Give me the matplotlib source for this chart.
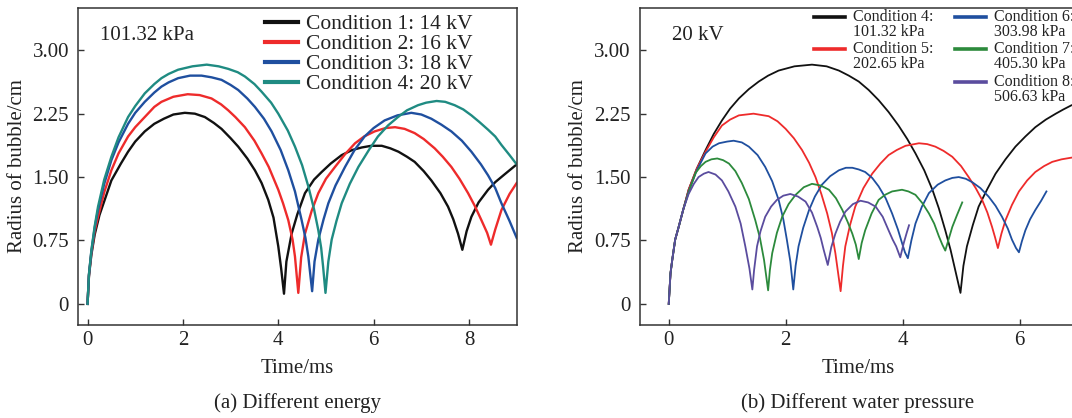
import matplotlib
matplotlib.use("Agg")
import matplotlib.pyplot as plt

plt.rcParams['font.family'] = ['Liberation Serif', 'DejaVu Serif']

# ---------------- data: panel (a) different energy ----------------
c1_t = [0, 0.03, 0.08, 0.15, 0.25, 0.5, 0.7, 0.85, 1.0, 1.2, 1.4, 1.6, 1.8, 2.04, 2.25, 2.46, 2.65, 2.81,
        3.0, 3.16, 3.35, 3.51, 3.65, 3.79, 3.9, 4.0, 4.06, 4.12,
        4.17, 4.28, 4.4, 4.56, 4.75, 4.91, 5.1, 5.33, 5.55, 5.75, 5.95, 6.17, 6.35, 6.52, 6.7, 6.86, 7.05,
        7.21, 7.4, 7.56, 7.67, 7.77, 7.86, 7.95, 8.05, 8.2, 8.40, 8.55, 8.72, 9.0]
c1_r = [0, 0.33, 0.58, 0.82, 1.05, 1.46, 1.66, 1.80, 1.92, 2.04, 2.13, 2.19, 2.24, 2.26, 2.25, 2.21, 2.14, 2.07,
        1.96, 1.86, 1.72, 1.58, 1.43, 1.23, 1.02, 0.68, 0.42, 0.12,
        0.50, 0.83, 1.06, 1.31, 1.47, 1.56, 1.66, 1.76, 1.82, 1.85, 1.87, 1.87, 1.84, 1.80, 1.74, 1.68, 1.57,
        1.46, 1.31, 1.15, 1.00, 0.83, 0.64, 0.86, 1.03, 1.20, 1.35, 1.44, 1.52, 1.65]

c2_t = [0, 0.03, 0.08, 0.15, 0.22, 0.35, 0.5, 0.65, 0.85, 1.0, 1.2, 1.4, 1.55, 1.8, 2.1, 2.35, 2.6, 2.8, 2.95,
        3.1, 3.3, 3.5, 3.65, 3.8, 4.0, 4.1, 4.21, 4.3, 4.35, 4.42,
        4.48, 4.56, 4.7, 4.84, 5.0, 5.19, 5.4, 5.61, 5.8, 6.02, 6.25, 6.45, 6.65, 6.86, 7.05, 7.28, 7.45, 7.63,
        7.8, 7.98, 8.12, 8.26, 8.38, 8.46, 8.55, 8.68, 8.85, 9.0]
c2_r = [0, 0.34, 0.60, 0.86, 1.03, 1.32, 1.58, 1.78, 1.98, 2.09, 2.21, 2.33, 2.39, 2.45, 2.48, 2.47, 2.43, 2.36,
        2.29, 2.21, 2.09, 1.93, 1.78, 1.62, 1.35, 1.19, 0.99, 0.76, 0.56, 0.13,
        0.55, 0.83, 1.10, 1.31, 1.48, 1.62, 1.77, 1.90, 1.98, 2.04, 2.08, 2.09, 2.07, 2.02, 1.95, 1.84, 1.74,
        1.62, 1.48, 1.31, 1.16, 0.99, 0.84, 0.70, 0.88, 1.11, 1.30, 1.43]

c3_t = [0, 0.03, 0.08, 0.15, 0.22, 0.35, 0.5, 0.65, 0.85, 1.0, 1.2, 1.4, 1.55, 1.7, 1.9, 2.15, 2.39, 2.6, 2.81,
        3.0, 3.16, 3.35, 3.51, 3.7, 3.86, 4.05, 4.21, 4.35, 4.49, 4.57, 4.63, 4.71,
        4.76, 4.84, 4.95, 5.05, 5.2, 5.4, 5.6, 5.81, 6.0, 6.23, 6.5, 6.79, 7.0, 7.21, 7.42, 7.63, 7.85, 8.05,
        8.25, 8.40, 8.55, 8.68, 8.85, 9.0]
c3_r = [0, 0.35, 0.62, 0.90, 1.11, 1.42, 1.70, 1.91, 2.13, 2.26, 2.39, 2.50, 2.57, 2.62, 2.67, 2.70, 2.70, 2.68,
        2.65, 2.59, 2.53, 2.43, 2.33, 2.19, 2.04, 1.82, 1.58, 1.33, 0.99, 0.78, 0.56, 0.15,
        0.50, 0.76, 1.00, 1.19, 1.40, 1.62, 1.82, 1.98, 2.08, 2.17, 2.23, 2.26, 2.24, 2.19, 2.12, 2.04, 1.93,
        1.80, 1.65, 1.52, 1.37, 1.19, 0.98, 0.78]

c4a_t = [0, 0.03, 0.08, 0.15, 0.22, 0.35, 0.5, 0.65, 0.85, 1.0, 1.2, 1.4, 1.55, 1.7, 1.9, 2.2, 2.5, 2.75, 2.95,
         3.15, 3.3, 3.5, 3.65, 3.85, 4.0, 4.2, 4.35, 4.5, 4.63, 4.75, 4.84, 4.9, 4.94, 4.99,
         5.05, 5.12, 5.22, 5.33, 5.5, 5.68, 5.9, 6.09, 6.3, 6.51, 6.7, 6.93, 7.1, 7.32, 7.5, 7.70, 7.88, 8.05,
         8.22, 8.40, 8.55, 8.68, 8.85, 9.0]
c4a_r = [0, 0.35, 0.63, 0.92, 1.15, 1.47, 1.74, 1.97, 2.21, 2.34, 2.49, 2.60, 2.67, 2.72, 2.77, 2.81, 2.83, 2.81,
         2.78, 2.74, 2.69, 2.60, 2.51, 2.38, 2.25, 2.05, 1.86, 1.64, 1.39, 1.12, 0.87, 0.66, 0.44, 0.13,
         0.50, 0.76, 0.98, 1.19, 1.42, 1.62, 1.82, 1.98, 2.11, 2.21, 2.29, 2.35, 2.38, 2.40, 2.39, 2.35, 2.30,
         2.23, 2.15, 2.06, 1.98, 1.88, 1.76, 1.65]

labels_a = ["Condition 1: 14 kV", "Condition 2: 16 kV", "Condition 3: 18 kV", "Condition 4: 20 kV"]

# ---------------- data: panel (b) different water pressure ----------------
c4b_t = [0, 0.03, 0.06, 0.11, 0.17, 0.25, 0.34, 0.48, 0.63, 0.77, 0.91, 1.05, 1.2, 1.37, 1.54, 1.7, 1.88,
         2.15, 2.45, 2.7, 2.91, 3.08, 3.25, 3.42, 3.59, 3.76, 3.93, 4.08, 4.22, 4.37, 4.51, 4.62, 4.73, 4.82,
         4.90, 4.99, 5.04, 5.10, 5.20, 5.30, 5.45, 5.59, 5.76, 5.93, 6.1, 6.27, 6.45, 6.62, 6.75, 6.89, 7.1,
         7.32]
c4b_r = [0, 0.36, 0.52, 0.76, 0.91, 1.12, 1.35, 1.60, 1.82, 2.01, 2.17, 2.31, 2.43, 2.54, 2.63, 2.70, 2.76,
         2.81, 2.83, 2.81, 2.76, 2.70, 2.63, 2.53, 2.41, 2.27, 2.11, 1.95, 1.78, 1.58, 1.35, 1.13, 0.87, 0.64,
         0.40, 0.13, 0.45, 0.68, 0.93, 1.15, 1.36, 1.54, 1.71, 1.86, 1.98, 2.09, 2.18, 2.25, 2.30, 2.35, 2.38,
         2.40]

c5_t = [0, 0.03, 0.06, 0.11, 0.17, 0.25, 0.34, 0.48, 0.63, 0.77, 0.91, 1.05, 1.2, 1.45, 1.71, 1.86, 2.0, 2.14,
        2.28, 2.40, 2.51, 2.61, 2.71, 2.79, 2.85, 2.94, 2.98, 3.02, 3.1, 3.19, 3.33, 3.48, 3.62, 3.76, 3.9,
        4.05, 4.28, 4.42, 4.56, 4.7, 4.85, 5.0, 5.13, 5.25, 5.36, 5.45, 5.53, 5.58, 5.63, 5.69, 5.76, 5.87,
        5.99, 6.13, 6.27, 6.42, 6.56, 6.72, 6.89, 7.2]
c5_r = [0, 0.36, 0.52, 0.76, 0.91, 1.12, 1.35, 1.60, 1.80, 1.97, 2.11, 2.18, 2.23, 2.25, 2.22, 2.16, 2.07, 1.96,
        1.82, 1.67, 1.50, 1.30, 1.07, 0.84, 0.60, 0.15, 0.45, 0.68, 0.93, 1.15, 1.37, 1.54, 1.66, 1.76, 1.82,
        1.87, 1.90, 1.89, 1.86, 1.81, 1.74, 1.63, 1.50, 1.37, 1.23, 1.08, 0.91, 0.79, 0.66, 0.83, 0.99, 1.17,
        1.33, 1.46, 1.56, 1.63, 1.68, 1.71, 1.73, 1.74]

c6_t = [0, 0.03, 0.06, 0.11, 0.17, 0.25, 0.34, 0.48, 0.63, 0.75, 0.86, 1.0, 1.11, 1.25, 1.37, 1.52, 1.65, 1.77,
        1.88, 1.96, 2.02, 2.08, 2.13, 2.17, 2.22, 2.30, 2.40, 2.50, 2.62, 2.76, 2.91, 3.03, 3.14, 3.25, 3.36,
        3.48, 3.59, 3.71, 3.82, 3.92, 3.99, 4.04, 4.09, 4.15, 4.22, 4.33, 4.45, 4.6, 4.73, 4.85, 4.96, 5.08,
        5.19, 5.33, 5.47, 5.59, 5.70, 5.80, 5.87, 5.94, 5.99, 6.04, 6.10, 6.18, 6.27, 6.37, 6.46]
c6_r = [0, 0.36, 0.52, 0.76, 0.91, 1.12, 1.33, 1.58, 1.78, 1.86, 1.90, 1.92, 1.93, 1.91, 1.86, 1.76, 1.62, 1.45,
        1.23, 1.00, 0.76, 0.50, 0.17, 0.45, 0.68, 0.90, 1.11, 1.27, 1.41, 1.51, 1.58, 1.61, 1.61, 1.59, 1.56,
        1.49, 1.39, 1.25, 1.07, 0.88, 0.72, 0.61, 0.54, 0.75, 0.95, 1.15, 1.31, 1.41, 1.46, 1.49, 1.50, 1.48,
        1.44, 1.37, 1.27, 1.16, 1.03, 0.89, 0.76, 0.66, 0.61, 0.74, 0.87, 1.00, 1.11, 1.22, 1.33]

c7_t = [0, 0.03, 0.06, 0.11, 0.17, 0.25, 0.34, 0.46, 0.55, 0.63, 0.73, 0.83, 0.93, 1.03, 1.14, 1.25, 1.37, 1.48,
        1.56, 1.63, 1.70, 1.73, 1.77, 1.85, 1.94, 2.05, 2.17, 2.31, 2.45, 2.60, 2.74, 2.86, 2.97, 3.06, 3.14,
        3.20, 3.25, 3.30, 3.36, 3.47, 3.59, 3.70, 3.82, 3.99, 4.10, 4.22, 4.34, 4.45, 4.54, 4.62, 4.68, 4.73,
        4.79, 4.85, 4.93, 5.02]
c7_r = [0, 0.36, 0.52, 0.76, 0.91, 1.12, 1.32, 1.55, 1.63, 1.68, 1.71, 1.72, 1.70, 1.66, 1.57, 1.43, 1.24, 0.99,
        0.78, 0.52, 0.16, 0.40, 0.60, 0.84, 1.03, 1.18, 1.29, 1.38, 1.42, 1.40, 1.35, 1.25, 1.11, 0.97, 0.83,
        0.70, 0.53, 0.72, 0.87, 1.07, 1.23, 1.29, 1.33, 1.35, 1.33, 1.29, 1.19, 1.07, 0.95, 0.80, 0.70, 0.63,
        0.77, 0.91, 1.05, 1.20]

c8_t = [0, 0.03, 0.06, 0.11, 0.17, 0.25, 0.34, 0.43, 0.51, 0.60, 0.68, 0.80, 0.91, 1.02, 1.14, 1.23, 1.31, 1.38,
        1.43, 1.46, 1.51, 1.57, 1.65, 1.75, 1.85, 1.96, 2.08, 2.21, 2.34, 2.45, 2.54, 2.60, 2.65, 2.72, 2.78,
        2.85, 2.93, 3.02, 3.15, 3.28, 3.41, 3.54, 3.66, 3.76, 3.83, 3.89, 3.96, 4.02, 4.07, 4.11]
c8_r = [0, 0.36, 0.52, 0.76, 0.91, 1.12, 1.30, 1.42, 1.50, 1.54, 1.56, 1.53, 1.46, 1.33, 1.15, 0.95, 0.68, 0.42,
        0.17, 0.40, 0.68, 0.86, 1.03, 1.15, 1.23, 1.28, 1.30, 1.27, 1.21, 1.08, 0.91, 0.78, 0.64, 0.46, 0.67,
        0.83, 0.97, 1.09, 1.18, 1.22, 1.20, 1.15, 1.03, 0.87, 0.76, 0.68, 0.55, 0.72, 0.84, 0.93]

labels_b = [("Condition 4:", "101.32 kPa"), ("Condition 5:", "202.65 kPa"),
            ("Condition 6:", "303.98 kPa"), ("Condition 7:", "405.30 kPa"),
            ("Condition 8:", "506.63 kPa")]

yticks = [0, 0.75, 1.50, 2.25, 3.00]
yticklabels = ["0", "0.75", "1.50", "2.25", "3.00"]

# ---------------- styling ----------------
BLACK = "#111111"
RED = "#ee2b2b"
BLUE = "#1f4f9f"
TEAL = "#1f8b82"
GREEN = "#2c8a3c"
PURPLE = "#5a4c9e"
SPINE = "#333333"
TXT = "#222222"
FS = 15

W, H = 1072, 418
fig = plt.figure(figsize=(W / 100, H / 100), dpi=100)


def px_axes(l, t, r, b):
    return fig.add_axes([l / W, 1 - b / H, (r - l) / W, (b - t) / H])


def style(ax, xlim, xticks):
    ax.set_xlim(*xlim)
    ax.set_ylim(-0.25, 3.5)
    ax.set_xticks(xticks)
    ax.set_xticklabels([str(v) for v in xticks])
    ax.set_yticks(yticks)
    ax.set_yticklabels(yticklabels)
    ax.tick_params(direction='in', length=4, width=1.0, color=SPINE, labelsize=FS, labelcolor=TXT)
    ax.tick_params(axis='x', pad=4.5)
    ax.tick_params(axis='y', pad=6.5)
    ax.tick_params(top=False, right=False)
    for s in ax.spines.values():
        s.set_color(SPINE)
        s.set_linewidth(1.1)
    ax.set_xlabel("Time/ms", fontsize=FS, color=TXT, labelpad=6)
    ax.set_ylabel("Radius of bubble/cm", fontsize=FS, color=TXT, labelpad=4)


# ---------------- panel (a) ----------------
axa = px_axes(78, 8, 516.7, 325)
lw_a = 1.7
axa.plot(c1_t, c1_r, color=BLACK, lw=lw_a, label=labels_a[0])
axa.plot(c2_t, c2_r, color=RED, lw=lw_a, label=labels_a[1])
axa.plot(c3_t, c3_r, color=BLUE, lw=lw_a, label=labels_a[2])
axa.plot(c4a_t, c4a_r, color=TEAL, lw=lw_a, label=labels_a[3])
style(axa, (-0.2, 9.0), [0, 2, 4, 6, 8])
axa.text(100 / W, 1 - 35 / H, "101.32 kPa", transform=fig.transFigure, fontsize=FS,
         va='center', ha='left', color=TXT)
leg = axa.legend(loc='upper left', bbox_to_anchor=(265 / W, 1 - 14 / H),
                 bbox_transform=fig.transFigure, frameon=False, fontsize=15.5,
                 handlelength=1.55, handletextpad=0.35, labelspacing=0.0,
                 borderpad=0, borderaxespad=0)
for ln in leg.get_lines():
    ln.set_linewidth(3.0)
for tx in leg.get_texts():
    tx.set_color(TXT)

# ---------------- panel (b) ----------------
axb = px_axes(639.5, 8, 1078, 325)
lw_b = 1.3
axb.plot(c4b_t, c4b_r, color=BLACK, lw=lw_b)
axb.plot(c5_t, c5_r, color=RED, lw=lw_b)
axb.plot(c6_t, c6_r, color=BLUE, lw=lw_b)
axb.plot(c7_t, c7_r, color=GREEN, lw=lw_b)
axb.plot(c8_t, c8_r, color=PURPLE, lw=lw_b)
style(axb, (-0.5, 7.0), [0, 2, 4, 6])
axb.text(672 / W, 1 - 35 / H, "20 kV", transform=fig.transFigure, fontsize=FS,
         va='center', ha='left', color=TXT)

# two-column legend, handle aligned with the first line of each label
leg_colors = [BLACK, RED, BLUE, GREEN, PURPLE]
leg_pos = [(814, 17), (814, 49), (955, 17), (955, 49), (955, 82)]
for (x0, y0), col, (l1, l2) in zip(leg_pos, leg_colors, labels_b):
    fig.add_artist(plt.Line2D([x0 / W, (x0 + 31) / W], [1 - y0 / H, 1 - y0 / H],
                              color=col, lw=2.6, transform=fig.transFigure))
    fig.text((x0 + 39) / W, 1 - y0 / H, l1, fontsize=11.5, va='center', ha='left', color=TXT)
    fig.text((x0 + 39) / W, 1 - (y0 + 15) / H, l2, fontsize=11.5, va='center', ha='left', color=TXT)

# ---------------- captions ----------------
fig.text(297 / W, 1 - 403 / H, "(a) Different energy", fontsize=FS, ha='center', va='center', color=TXT)
fig.text(858 / W, 1 - 403 / H, "(b) Different water pressure", fontsize=FS, ha='center', va='center',
         color=TXT)

fig.savefig("out.png", dpi=100)
